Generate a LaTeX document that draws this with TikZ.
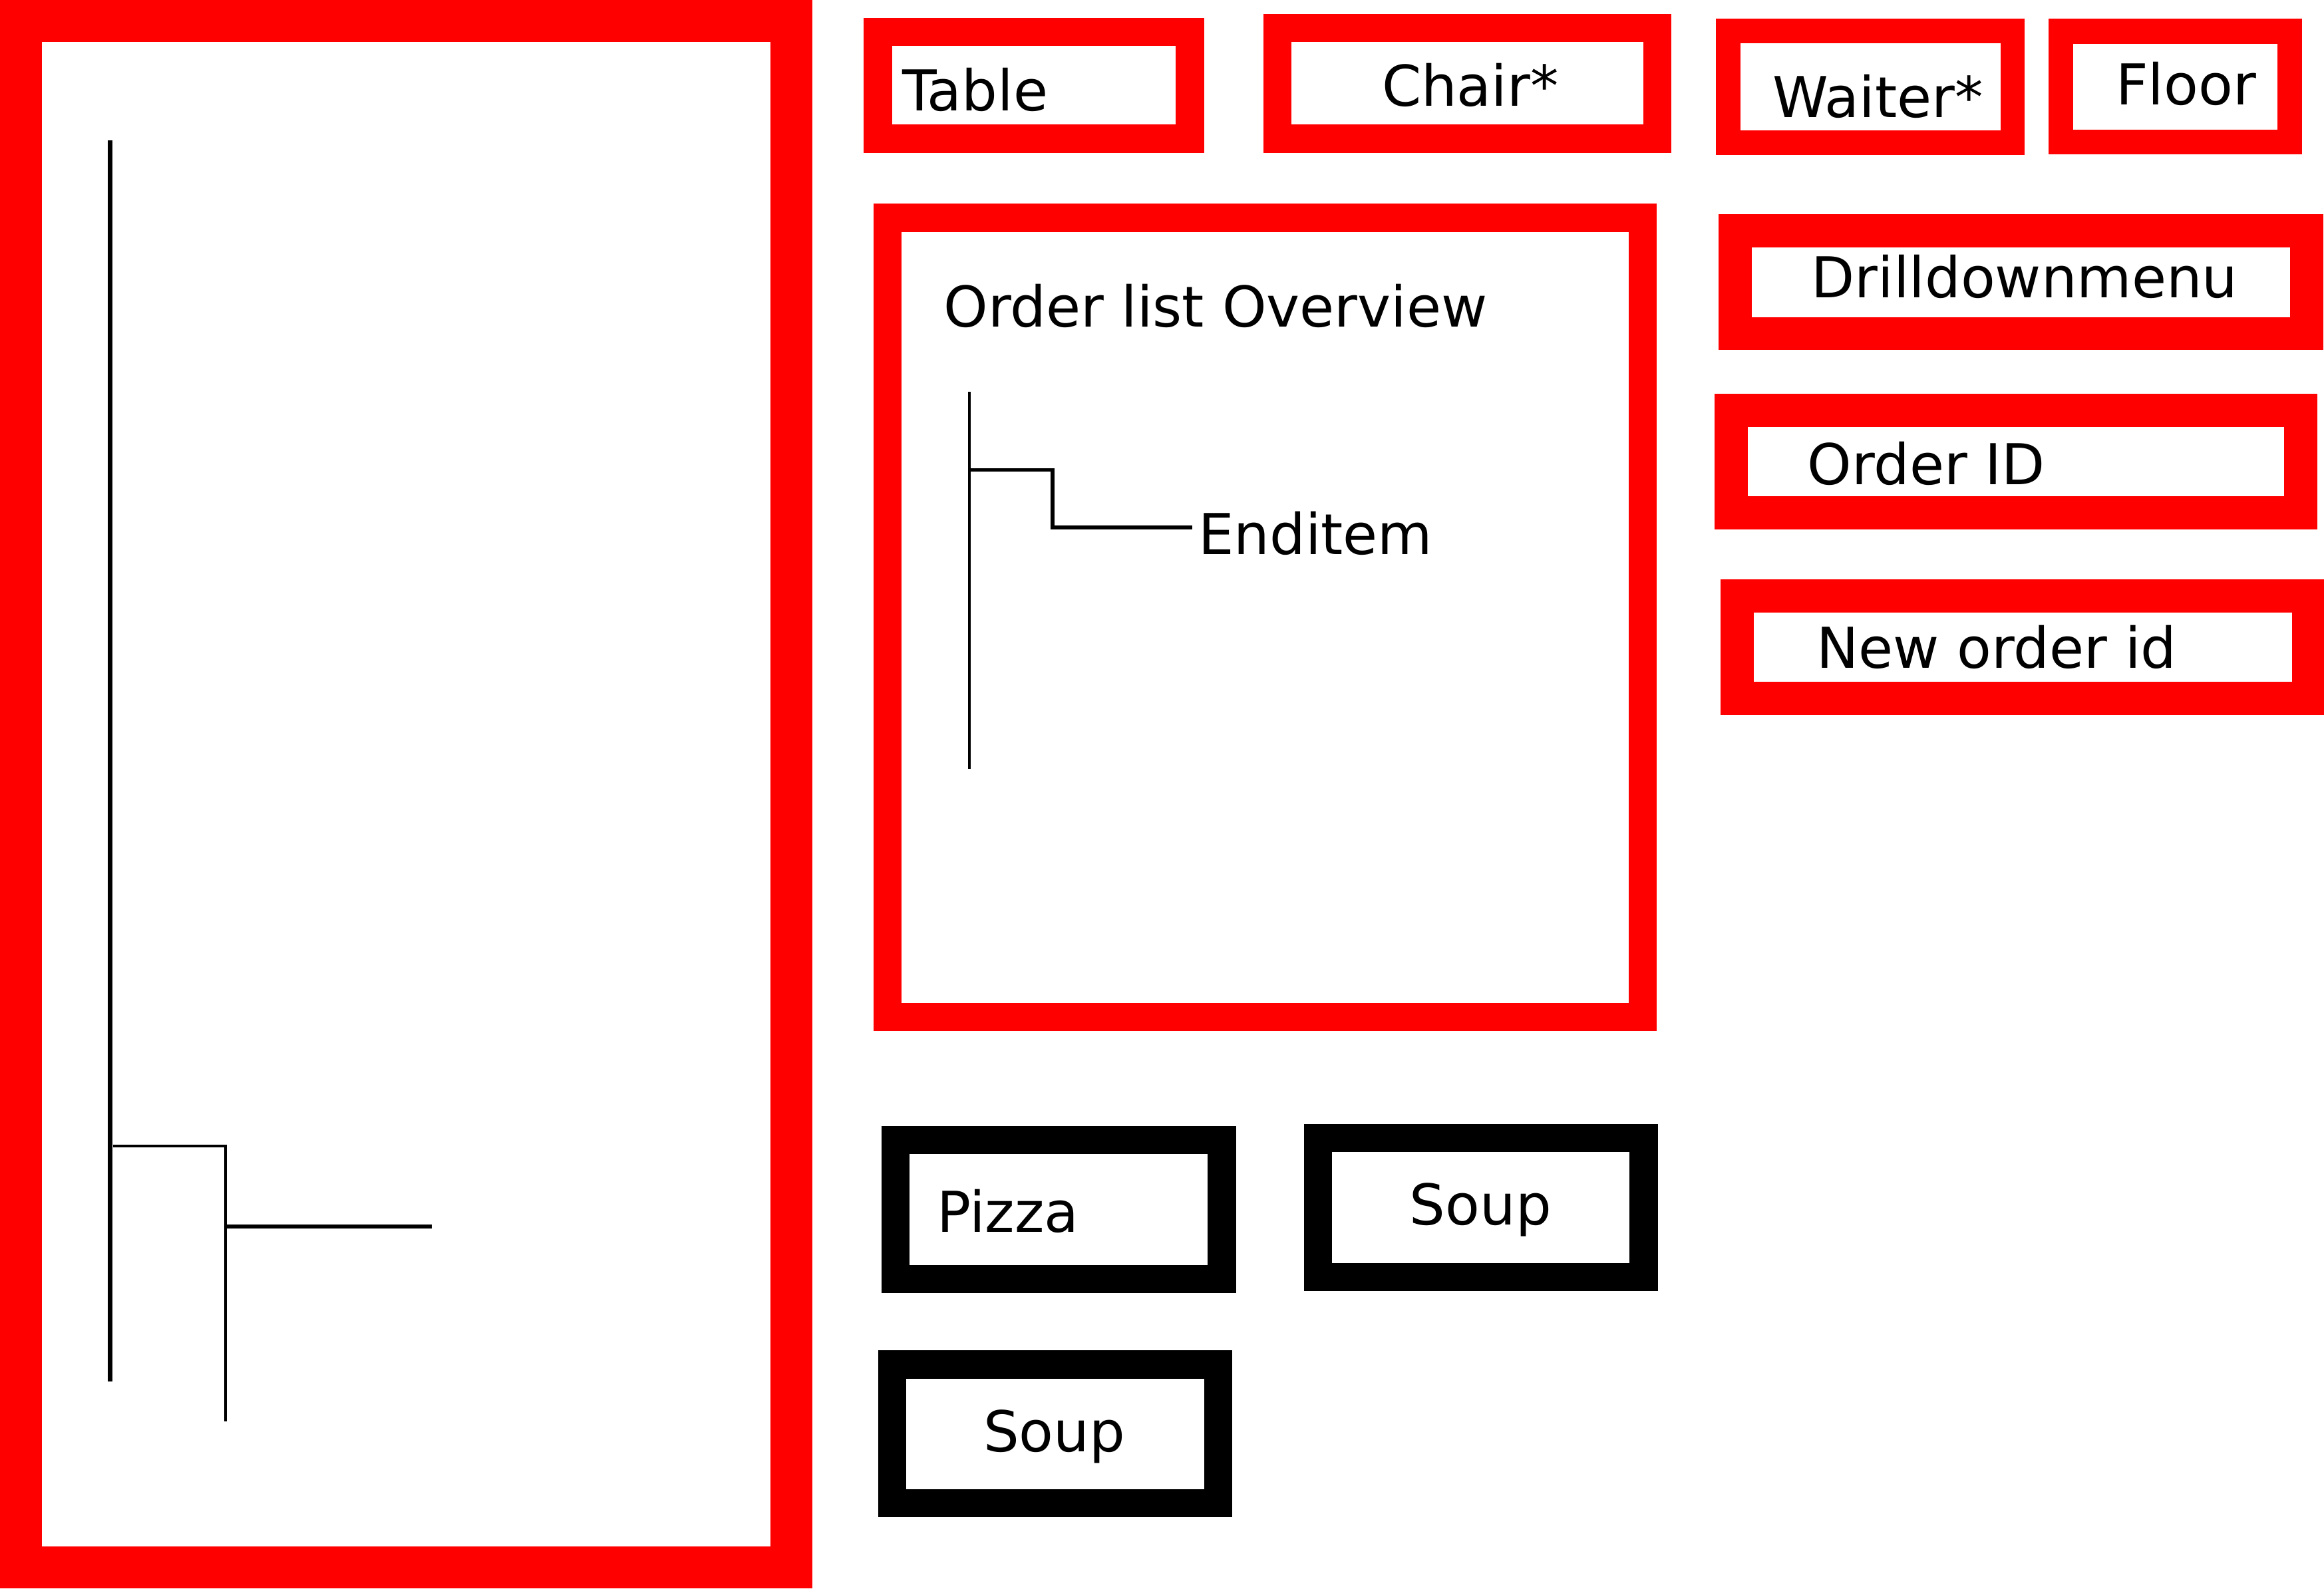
\documentclass[tikz,border=0pt]{standalone}
\usepackage{fontspec}
\setmainfont{DejaVu Sans}
\begin{document}
\begin{tikzpicture}[x=1pt,y=-1pt,
  box/.style={rectangle, draw=#1, fill=none, inner sep=0pt, outer sep=0pt},
  lbl/.style={anchor=base west, inner sep=0pt, outer sep=0pt, font=\fontsize{38pt}{45pt}\selectfont},
  treeline/.style={draw=black, line cap=butt}]
\useasboundingbox (0,0) rectangle (1568,1072);
% boxes
\node[box=red, line width=28.3pt, minimum width=519.8pt, minimum height=1043.8pt] (big) at (274.1,536.1) {};
\node[box=red, line width=19.1pt, minimum width=210.4pt, minimum height=72.2pt] (table) at (697.6,57.6) {};
\node[box=red, line width=18.9pt, minimum width=256.3pt, minimum height=74.7pt] (chair) at (990.15,56.25) {};
\node[box=red, line width=16.6pt, minimum width=191.9pt, minimum height=75.3pt] (waiter) at (1261.95,58.55) {};
\node[box=red, line width=16.7pt, minimum width=154.6pt, minimum height=74.7pt] (floor) at (1467.7,58.45) {};
\node[box=red, line width=22.4pt, minimum width=385.8pt, minimum height=69.4pt] (drill) at (1363.6,190.4) {};
\node[box=red, line width=22.4pt, minimum width=384.4pt, minimum height=69.3pt] (orderid) at (1360.1,311.45) {};
\node[box=red, line width=22.4pt, minimum width=385.6pt, minimum height=69.3pt] (neworder) at (1364.9,436.65) {};
\node[box=red, line width=18.9pt, minimum width=509.4pt, minimum height=539.5pt] (overview) at (853.7,416.75) {};
\node[box=black, line width=19pt, minimum width=220.2pt, minimum height=93.7pt] (pizza) at (714.3,816.35) {};
\node[box=black, line width=19pt, minimum width=219.6pt, minimum height=93.8pt] (souptop) at (999.2,815.0) {};
\node[box=black, line width=19pt, minimum width=220.1pt, minimum height=93.7pt] (soupbot) at (711.95,967.75) {};
% labels
\node[lbl] (tTable) at (608.8,74.8) {Table};
\node[lbl] (tChair) at (932.4,71.8) {Chair*};
\node[lbl] (tWaiter) at (1196,79.4) {Waiter*};
\node[lbl] (tFloor) at (1427.6,70.7) {Floor};
\node[lbl] (tDrill) at (1222.2,200.7) {Drilldownmenu};
\node[lbl] (tOrderID) at (1219.4,326.9) {Order ID};
\node[lbl] (tNewOrder) at (1225.6,450.9) {New order id};
\node[lbl] (tOverview) at (636.7,220.7) {Order list Overview};
\node[lbl] (tEnditem) at (808.5,374.2) {Enditem};
\node[lbl] (tPizza) at (632.1,831.6) {Pizza};
\node[lbl] (tSoupTop) at (951.2,826.5) {Soup};
\node[lbl] (tSoupBot) at (663.5,979.7) {Soup};
% left tree
\coordinate (a1) at (74.2,94.9);
\coordinate (a2) at (74.2,932.4);
\coordinate (b1) at (76.3,773.3);
\coordinate (b2) at (152.3,773.3);
\coordinate (b3) at (152.3,959.2);
\coordinate (c1) at (152.3,827.6);
\coordinate (c2) at (291.2,827.6);
\draw[treeline, line width=2.9pt] (a1) -- (a2);
\draw[treeline, line width=1.9pt] (b1) -- (b2) -- (b3);
\draw[treeline, line width=2.8pt] (c1) -- (c2);
% tree in overview
\coordinate (d1) at (654,264.4);
\coordinate (d2) at (654,519);
\coordinate (e1) at (654,317.1);
\coordinate (e2) at (710,317.1);
\coordinate (e3) at (710,355.8);
\coordinate (e4) at (804.6,355.8);
\draw[treeline, line width=1.5pt] (d1) -- (d2);
\draw[treeline, line width=2.6pt] (e1) -- (e2) -- (e3) -- (e4);
\end{tikzpicture}
\end{document}
